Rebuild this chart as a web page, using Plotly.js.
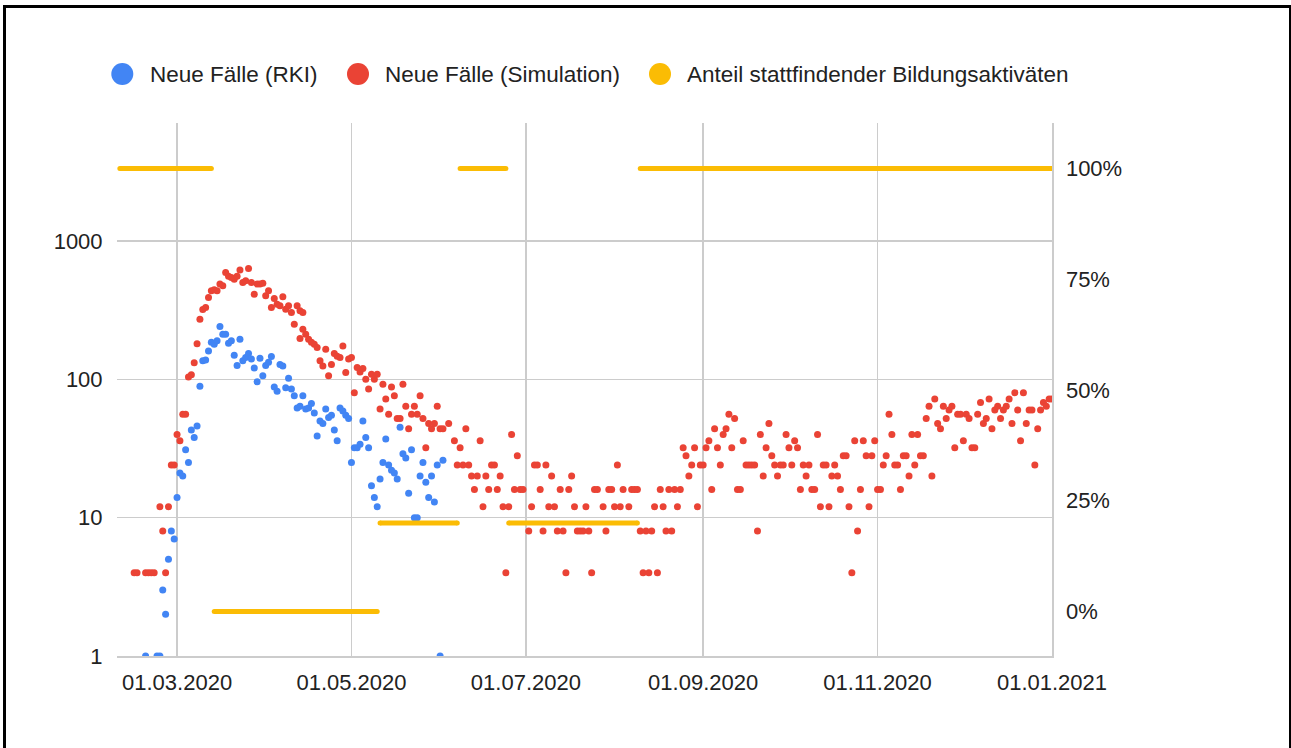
<!DOCTYPE html>
<html><head><meta charset="utf-8">
<script src="https://cdn.plot.ly/plotly-3.0.1.min.js"></script>
<style>
html,body{margin:0;padding:0;background:#fff;overflow:hidden;}
#chart{width:1291px;height:748px;}
#frame{position:absolute;left:3px;top:5px;width:1283px;height:760px;border-left:3px solid #000;border-top:3px solid #000;border-right:2px solid #000;pointer-events:none;}
</style></head><body>
<div id="chart"></div><div id="frame"></div>
<script>
// ---- data ----
// day offsets are relative to 01.03.2020
const rkiFirstDay = -11;
const rkiCases = [1,null,null,null,1,1,3,2,5,8,7,
  14,21,20,31,25,43,38,46,89,136,
  138,160,185,179,190,241,212,212,182,190,
  149,126,195,136,144,154,140,121,96,142,
  106,126,133,146,88,82,128,125,87,102,
  85,76,62,64,76,61,62,67,57,39,
  50,48,61,53,55,43,36,62,59,55,
  52,25,32,32,34,50,38,32,17,14,
  12,19,25,37,24,22,21,19,45,29,
  27,15,31,10,10,20,25,18,14,20,
  13,24,1,26];

const simFirstDay = -15;
const simCases = [4,4,null,null,4,4,4,4,null,12,8,4,12,24,24,
  40,36,56,56,104,108,132,181,272,320,
  330,391,437,444,437,488,474,593,555,545,
  530,555,617,502,516,634,502,413,488,488,
  495,402,437,331,384,349,340,395,321,340,
  304,250,340,313,304,212,195,185,179,170,
  136,125,165,106,128,154,147,144,174,112,
  140,144,80,122,113,120,100,85,109,100,
  109,61,92,72,56,88,76,52,52,92,
  64,44,56,64,56,76,52,32,48,44,
  48,64,44,44,null,48,null,36,24,32,
  24,44,24,20,16,20,36,12,20,16,
  24,24,16,20,12,4,12,40,16,28,
  16,16,null,8,12,24,24,16,8,24,
  12,20,12,8,16,8,4,16,20,12,
  8,8,8,12,8,4,16,16,null,12,
  8,16,16,12,24,12,16,null,12,16,
  16,16,8,4,8,4,8,12,4,16,
  12,8,16,8,16,12,16,32,28,20,
  24,32,12,24,24,32,36,16,44,32,
  24,40,44,56,32,52,16,16,36,24,
  24,24,24,8,40,20,32,48,28,24,
  20,24,24,40,32,24,36,32,16,24,
  20,24,16,16,40,12,24,24,12,20,
  24,20,16,28,28,12,4,36,8,16,
  36,28,12,28,36,16,16,24,28,56,
  40,24,24,16,28,28,20,40,24,40,
  28,28,52,64,20,72,48,44,64,52,
  60,64,32,56,56,36,56,52,32,32,
  56,68,48,52,72,44,60,64,52,60,
  64,72,48,80,60,36,80,48,60,60,
  24,44,60,68,64,72,72];
const simExtraDays = [43,44];
const simExtraCases = [197,230];

const eduStart = ['2020-02-10','2020-03-14','2020-05-11','2020-06-08','2020-06-25','2020-08-10'];
const eduEnd   = ['2020-03-13','2020-05-10','2020-06-07','2020-06-24','2020-08-09','2021-01-01'];
const eduShare = [1, 0, 0.2, 1, 0.2, 1];

const xTickDates  = ['2020-03-01','2020-05-01','2020-07-01','2020-09-01','2020-11-01','2021-01-01'];
const xTickLabels = ['01.03.2020','01.05.2020','01.07.2020','01.09.2020','01.11.2020','01.01.2021'];
const yTickVals = [1,10,100,1000];
const yTickLabels = ['1','10','100','1000'];
const y2TickVals = [0,0.25,0.5,0.75,1];
const y2TickLabels = ['0%','25%','50%','75%','100%'];
const seriesNames = ['Neue Fälle (RKI)','Neue Fälle (Simulation)','Anteil stattfindender Bildungsaktiväten'];
const seriesColors = ['#4285f4','#ea4335','#fbbc04'];

// ---- helpers ----
function dayToDate(d){
  return new Date(Date.UTC(2020,2,1) + d*86400000).toISOString().slice(0,10);
}
function seriesDates(first, vals){ return vals.map((v,i)=>dayToDate(first+i)); }

const simX = seriesDates(simFirstDay, simCases).concat(simExtraDays.map(dayToDate));
const simY = simCases.concat(simExtraCases);
const rkiX = seriesDates(rkiFirstDay, rkiCases);

const eduX = [], eduY = [];
eduStart.forEach((s,i)=>{ eduX.push(s, eduEnd[i], null); eduY.push(eduShare[i], eduShare[i], null); });

const FONT = 'Liberation Sans, Arial, Helvetica, sans-serif';
const tickFont = {family: FONT, size: 22, color: '#222222'};
const legendFont = {family: FONT, size: 22.5, color: '#222222'};

const traces = [
  {x: rkiX, y: rkiCases, type:'scatter', mode:'markers', name: seriesNames[0],
   marker:{color: seriesColors[0], size:7}, yaxis:'y', showlegend:false},
  {x: simX, y: simY, type:'scatter', mode:'markers', name: seriesNames[1],
   marker:{color: seriesColors[1], size:7}, yaxis:'y', showlegend:false},
  {x: eduX, y: eduY, type:'scatter', mode:'lines+markers', name: seriesNames[2],
   line:{color: seriesColors[2], width:5}, marker:{color: seriesColors[2], size:5},
   yaxis:'y2', showlegend:false, connectgaps:false}
];

// plot area in pixels
const L = 117, R = 1052, T = 123, B = 656;
const px = X => (X - L)/(R - L);
const py = Y => (B - Y)/(B - T);

const legendCircleX = [122.3, 358, 660];
const legendTextX = [149, 384, 686];
const legendY = 74;

const shapes = legendCircleX.map((cx,i)=>({
  type:'circle', xref:'paper', yref:'paper', xsizemode:'pixel', ysizemode:'pixel',
  xanchor: px(cx), yanchor: py(legendY), x0:-11, x1:11, y0:-11, y1:11,
  fillcolor: seriesColors[i], line:{width:0}
}));
const annotations = legendTextX.map((tx,i)=>({
  xref:'paper', yref:'paper', x: px(tx), y: py(legendY), xanchor:'left', yanchor:'middle',
  text: seriesNames[i], showarrow:false, borderpad:0, font: legendFont
}));

const layout = {
  width:1291, height:748,
  margin:{l:L, r:1291-R, t:T, b:748-B, pad:0},
  paper_bgcolor:'#ffffff', plot_bgcolor:'#ffffff',
  font: tickFont,
  showlegend:false,
  xaxis:{type:'date', range:['2020-02-09','2021-01-01'], tickvals:xTickDates, ticktext:xTickLabels,
    showgrid:true, gridcolor:'#cccccc', gridwidth:1.5, zeroline:false,
    showline:true, linecolor:'#cccccc', linewidth:1.5,
    ticks:'outside', ticklen:6, tickcolor:'rgba(0,0,0,0)', tickfont:tickFont, fixedrange:true},
  yaxis:{type:'log', range:[0, 3.853], tickvals:yTickVals, ticktext:yTickLabels,
    showgrid:true, gridcolor:'#cccccc', gridwidth:1.5, zeroline:false, showline:false,
    ticks:'outside', ticklen:9, tickcolor:'rgba(0,0,0,0)', tickfont:tickFont, fixedrange:true},
  yaxis2:{overlaying:'y', side:'right', range:[-0.1005, 1.1027], tickvals:y2TickVals, ticktext:y2TickLabels,
    showgrid:false, zeroline:false, showline:true, linecolor:'#cccccc', linewidth:1.5,
    ticks:'outside', ticklen:8, tickcolor:'rgba(0,0,0,0)', tickfont:tickFont, fixedrange:true},
  shapes: shapes,
  annotations: annotations
};

Plotly.newPlot('chart', traces, layout, {staticPlot:true, displayModeBar:false});
</script>
</body></html>
